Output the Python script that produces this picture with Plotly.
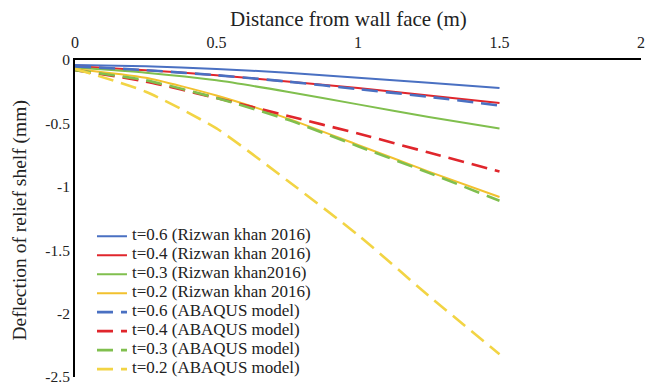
import plotly.graph_objects as go

x = [0, 0.25, 0.5, 0.75, 1.0, 1.25, 1.5]

rk_t06 = [-0.04, -0.05, -0.07, -0.10, -0.14, -0.18, -0.22]
rk_t04 = [-0.05, -0.08, -0.12, -0.17, -0.22, -0.28, -0.34]
rk_t03 = [-0.06, -0.10, -0.16, -0.25, -0.35, -0.45, -0.54]
rk_t02 = [-0.07, -0.14, -0.28, -0.46, -0.67, -0.88, -1.08]
ab_t06 = [-0.05, -0.08, -0.12, -0.17, -0.23, -0.29, -0.36]
ab_t04 = [-0.08, -0.17, -0.30, -0.44, -0.58, -0.73, -0.88]
ab_t03 = [-0.08, -0.16, -0.30, -0.47, -0.68, -0.89, -1.11]
ab_t02 = [-0.07, -0.25, -0.54, -0.95, -1.38, -1.86, -2.32]

names = [
    "t=0.6 (Rizwan khan 2016)",
    "t=0.4 (Rizwan khan 2016)",
    "t=0.3 (Rizwan khan2016)",
    "t=0.2 (Rizwan khan 2016)",
    "t=0.6 (ABAQUS model)",
    "t=0.4 (ABAQUS model)",
    "t=0.3 (ABAQUS model)",
    "t=0.2 (ABAQUS model)",
]
series = [rk_t06, rk_t04, rk_t03, rk_t02, ab_t06, ab_t04, ab_t03, ab_t02]
colors = ["#4A70C2", "#E0262C", "#80BF4E", "#F2C12E",
          "#4A70C2", "#E0262C", "#80BF4E", "#F2D444"]

y_ticks = [0, -0.5, -1, -1.5, -2, -2.5]
y_ticktext = ["0", "-0.5", "-1", "-1.5", "-2", "-2.5"]
x_ticks = [0, 0.5, 1, 1.5, 2]
x_ticktext = ["0", "0.5", "1", "1.5", "2"]
x_title = "Distance from wall face (m)"
y_title = "Deflection of relief shelf (mm)"

serif = "Liberation Serif"

fig = go.Figure()
for i, (nm, ys, c) in enumerate(zip(names, series, colors)):
    dashed = i >= 4
    fig.add_trace(go.Scatter(
        x=x, y=ys, mode="lines",
        name='<span style="font-size:17px">' + nm + '</span>',
        line=dict(color=c, width=2.6 if dashed else 2,
                  dash="16px,8px" if dashed else "solid",
                  shape="spline", smoothing=0.6),
    ))

fig.update_layout(
    width=651, height=392,
    margin=dict(l=75, r=6, t=60, b=15),
    paper_bgcolor="white", plot_bgcolor="white",
    font=dict(family=serif, color="#222222", size=14),
    showlegend=True,
    legend=dict(x=0.03, y=0.49, xanchor="left", yanchor="top",
                bgcolor="rgba(0,0,0,0)", font=dict(size=11, family=serif),
                tracegroupgap=0, itemwidth=30),
    xaxis=dict(side="top", range=[0, 2], tickvals=x_ticks, ticktext=x_ticktext,
               showgrid=False, zeroline=False, showline=True,
               linecolor="black", linewidth=2, ticks="",
               ticklabelstandoff=4,
               tickfont=dict(size=16, family=serif)),
    yaxis=dict(range=[-2.5, 0], tickvals=y_ticks, ticktext=y_ticktext,
               showgrid=False, zeroline=False, showline=True,
               linecolor="black", linewidth=2, ticks="",
               tickfont=dict(size=15.5, family=serif)),
    annotations=[
        dict(text=x_title, xref="paper", yref="paper", x=0.4825, y=1.13,
             xanchor="center", yanchor="middle", showarrow=False,
             font=dict(size=21, family=serif, color="#222222")),
        dict(text=y_title, xref="paper", yref="paper", x=-0.0965, y=0.495,
             xanchor="center", yanchor="middle", showarrow=False, textangle=-90,
             font=dict(size=19.5, family=serif, color="#222222")),
    ],
)

fig.write_html("out.html")
